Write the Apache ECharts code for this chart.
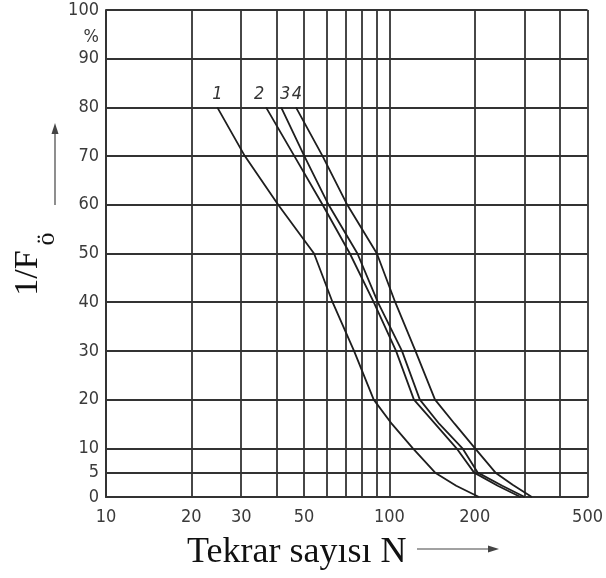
<!DOCTYPE html>
<html>
<head>
<meta charset="utf-8">
<script src="https://cdn.jsdelivr.net/npm/echarts@6/dist/echarts.min.js"></script>
<style>
  html, body { margin: 0; padding: 0; background: #fff; }
  #chart { width: 606px; height: 578px; }
</style>
</head>
<body>
<div id="chart"></div>
<script>
// Grid positions on the logarithmic repetition axis and the labelled ones
const xGridValues = [10, 20, 30, 40, 50, 60, 70, 80, 90, 100, 200, 300, 400, 500];
const xLabelValues = [10, 20, 30, 50, 100, 200, 500];
// Percentage axis grid / labels
const yGridValues = [0, 5, 10, 20, 30, 40, 50, 60, 70, 80, 90, 100];

// Curve identifiers
const curveNames = ['1', '2', '3', '4'];

// [N, 1/Fö %] points of each curve
const curve1 = [[24.7, 80], [30.9, 70], [40.5, 60], [54.2, 50], [63, 40], [75, 30], [88, 20], [102, 15], [121, 10], [145, 5], [172, 2.3], [207, 0]];
const curve2 = [[36.7, 80], [46.2, 70], [58.1, 60], [72.5, 50], [88, 40], [105.5, 30], [122, 20], [145, 15], [172.5, 10], [199, 5], [241, 2.3], [290, 0]];
const curve3 = [[41.5, 80], [50.1, 70], [61, 60], [77.1, 50], [91, 40], [110.7, 30], [128, 20], [150, 15], [181, 10], [205, 5], [250, 2.3], [300, 0]];
const curve4 = [[46.8, 80], [58.1, 70], [71, 60], [90.3, 50], [104.8, 40], [123.5, 30], [144.8, 20], [170, 15], [200.5, 10], [236.7, 5], [272, 2.5], [318, 0]];

const curves = [curve1, curve2, curve3, curve4];
// horizontal nudge of each curve number above its start point
const nameOffsets = [[0, 0], [-7, 0], [4, 0], [1, 0]];

const gridColor = '#333333';
const tickFont = "'Liberation Sans Narrow', 'DejaVu Sans Condensed', 'Liberation Sans', sans-serif";

const series = curves.map((pts, k) => ({
  type: 'line',
  name: curveNames[k],
  data: pts.map((p, i) => i === 0 ? {
    value: p,
    label: {
      show: true,
      position: 'top',
      distance: 4,
      offset: nameOffsets[k],
      formatter: curveNames[k],
      fontStyle: 'italic',
      fontFamily: tickFont,
      fontSize: 18,
      color: '#333'
    }
  } : p),
  symbol: 'circle',
  symbolSize: 0,
  showSymbol: true,
  label: { show: false },
  lineStyle: { color: '#1e1e1e', width: 1.8 },
  itemStyle: { color: '#1e1e1e' },
  emphasis: { disabled: true },
  z: 5
}));

const chart = echarts.init(document.getElementById('chart'), null, { renderer: 'canvas' });
chart.setOption({
  animation: false,
  backgroundColor: '#ffffff',
  grid: { left: 106, right: 16, top: 10, bottom: 81, containLabel: false },
  xAxis: {
    type: 'log',
    logBase: 10,
    min: 10,
    max: 500,
    axisLine: { show: true, lineStyle: { color: gridColor, width: 2 } },
    axisTick: { show: false, customValues: xGridValues },
    axisLabel: {
      customValues: xLabelValues,
      margin: 11,
      fontFamily: tickFont,
      fontSize: 18,
      color: '#3a3a3a',
      formatter: v => String(Math.round(v))
    },
    splitLine: { show: true, lineStyle: { color: gridColor, width: 1.8 } },
    minorTick: { show: false },
    minorSplitLine: { show: false }
  },
  yAxis: {
    type: 'value',
    min: 0,
    max: 100,
    axisLine: { show: true, lineStyle: { color: gridColor, width: 2 } },
    axisTick: { show: false, customValues: yGridValues },
    axisLabel: {
      customValues: yGridValues,
      margin: 7,
      fontFamily: tickFont,
      fontSize: 18,
      color: '#3a3a3a'
    },
    splitLine: { show: true, lineStyle: { color: gridColor, width: 1.8 } }
  },
  series: series,
  graphic: [
    { type: 'text', x: 99, y: 37, style: { text: '%', textAlign: 'right', textVerticalAlign: 'middle', font: '18px ' + tickFont, fill: '#3a3a3a' } },
    // vertical axis title 1/Fö with lowered ö
    { type: 'text', x: 28, y: 273, rotation: Math.PI / 2, style: { text: '1/F', textAlign: 'center', textVerticalAlign: 'middle', font: "34px 'Liberation Serif', serif", fill: '#111' } },
    { type: 'text', x: 47, y: 239, rotation: Math.PI / 2, style: { text: 'ö', textAlign: 'center', textVerticalAlign: 'middle', font: "26px 'Liberation Serif', serif", fill: '#111' } },
    { type: 'line', shape: { x1: 55, y1: 205, x2: 55, y2: 132 }, style: { stroke: '#444', lineWidth: 1.2 } },
    { type: 'polygon', shape: { points: [[55, 123], [51.5, 134], [58.5, 134]] }, style: { fill: '#444' } },
    // horizontal axis title with arrow
    { type: 'text', x: 187, y: 553, style: { text: 'Tekrar sayısı N', textAlign: 'left', textVerticalAlign: 'middle', font: "36px 'Liberation Serif', serif", fill: '#111' } },
    { type: 'line', shape: { x1: 417, y1: 549, x2: 490, y2: 549 }, style: { stroke: '#444', lineWidth: 1.2 } },
    { type: 'polygon', shape: { points: [[499, 549], [488, 545.5], [488, 552.5]] }, style: { fill: '#444' } }
  ]
});
</script>
</body>
</html>
